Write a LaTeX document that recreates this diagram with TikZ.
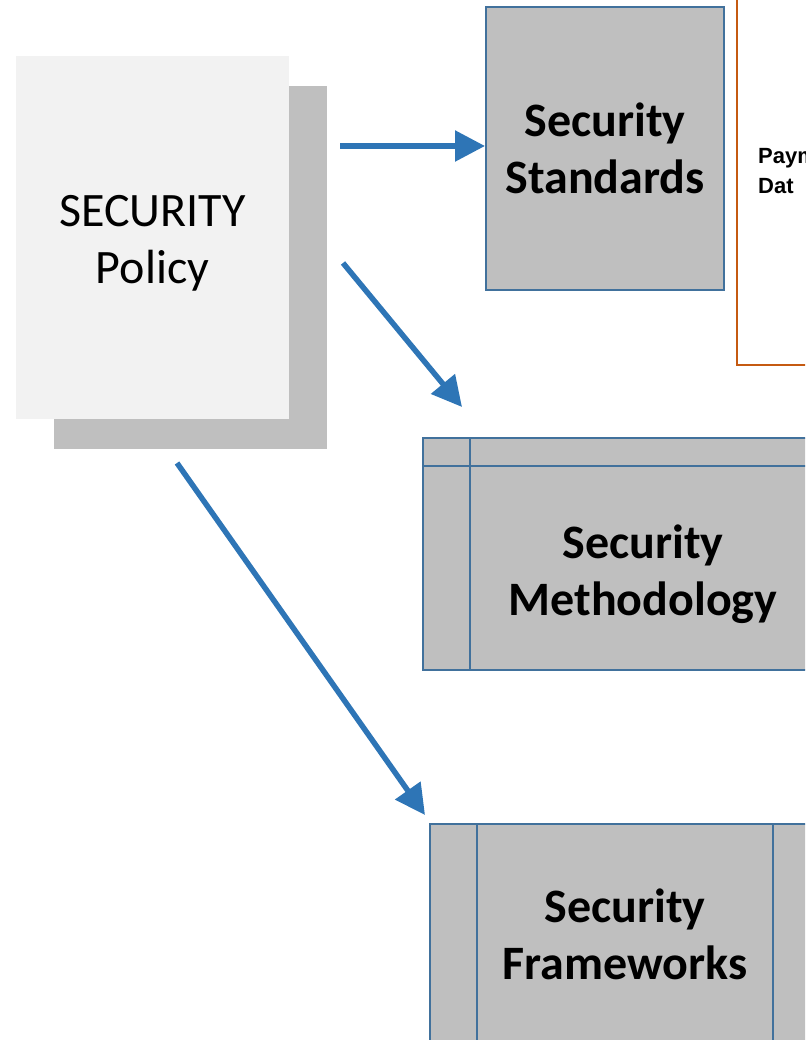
\documentclass[tikz,border=0pt]{standalone}
\usepackage{fontspec}
\setmainfont{Carlito}
\newfontfamily\arialfont{Liberation Sans}
\usepackage{tikz}
\usetikzlibrary{arrows.meta,positioning}
\definecolor{boxblue}{RGB}{65,113,156}
\definecolor{arrowblue}{RGB}{46,117,182}
\definecolor{payorange}{RGB}{197,90,17}
\definecolor{docgray}{RGB}{191,191,191}
\definecolor{docwhite}{RGB}{242,242,242}
\tikzset{
	secbox/.style={draw=boxblue, line width=2pt, fill=docgray, align=center, inner sep=0pt,
		font=\fontsize{48}{57}\selectfont\bfseries},
	docpage/.style={minimum width=273pt, minimum height=363pt, inner sep=0pt},
	flow/.style={draw=arrowblue, line width=5.5pt, -{Triangle[length=30pt,width=30pt]}},
}
\begin{document}
\begin{tikzpicture}[x=1pt,y=-1pt]
	\useasboundingbox (0,0) rectangle (805,1040);
	\clip (0,0) rectangle (805,1040);
	% policy document with its shadow page
	\node[docpage, fill=docgray] (shadow) at (190.5,267.5) {};
	\node[docpage, fill=docwhite] (policy) at (152.5,237.5) {};
	\node[align=center, inner sep=0pt, font=\fontsize{48}{57}\selectfont] (policytext) at (152.5,243) {SECURITY\\Policy};
	% the three targets
	\node[secbox, minimum width=238pt, minimum height=283pt] (std) at (605,148.5) {Security\\Standards};
	\node[draw=payorange, line width=1.5pt, minimum width=200pt, minimum height=374pt, anchor=north west] (pay) at (736,-10) {};
	\node[anchor=west, align=left, inner sep=0pt, font=\arialfont\fontsize{22}{30}\selectfont\bfseries] (paytext) at (758,171) {Paym\\Dat};
	\node[secbox, minimum width=440pt, minimum height=232pt] (meth) at (643,554) {};
	\node[inner sep=0pt, align=center, font=\fontsize{48}{57}\selectfont\bfseries] (methtext) at (643,574) {Security\\Methodology};
	\draw[boxblue, line width=2pt] ([yshift=-29pt]meth.north west) -- ([yshift=-29pt]meth.north east);
	\draw[boxblue, line width=2pt] ([xshift=48pt]meth.north west) -- ([xshift=48pt]meth.south west);
	\node[secbox, minimum width=390pt, minimum height=220pt] (frame) at (625,934) {Security\\Frameworks};
	\draw[boxblue, line width=2pt] ([xshift=48pt]frame.north west) -- ([xshift=48pt]frame.south west);
	\draw[boxblue, line width=2pt] ([xshift=-48pt]frame.north east) -- ([xshift=-48pt]frame.south east);
	% arrows
	\coordinate (a1) at (340,146);
	\coordinate (a2) at (343,263);
	\coordinate (b2) at (462,407);
	\coordinate (a3) at (177,463);
	\coordinate (b3) at (425,815);
	\draw[flow] (a1) -- ([yshift=2.5pt]std.west);
	\draw[flow] (a2) -- (b2);
	\draw[flow] (a3) -- (b3);
\end{tikzpicture}
\end{document}
